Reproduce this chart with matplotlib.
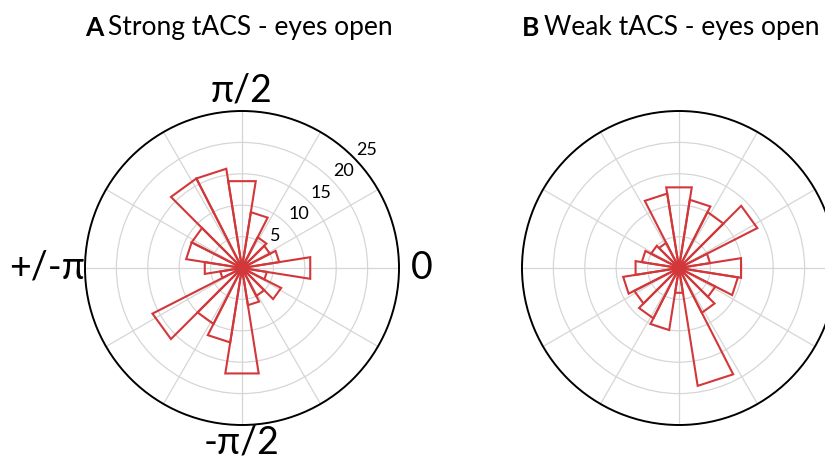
import numpy as np
import matplotlib
matplotlib.use("Agg")
import matplotlib.pyplot as plt

plt.rcParams['font.family'] = ['Lato', 'DejaVu Sans']

# ---- data ----
bin_centers_deg = [0, 18, 36, 54, 72, 90, 108, 126, 144, 162,
                   180, 198, 216, 234, 252, 270, 288, 306, 324, 342]
bin_width_deg = 18
counts_strong = [11, 6, 5, 5.5, 9, 14, 16, 16, 9, 9,
                 6, 3.5, 16, 10, 12, 17, 6, 5, 7, 4]
counts_weak = [10, 5, 14, 10, 11, 13, 12, 4.5, 5, 6,
               7, 9, 8, 9, 10, 4, 19, 8, 6.5, 9.5]
titles_bold = ['A', 'B']
titles_rest = ['Strong tACS - eyes open', 'Weak tACS - eyes open']
r_ticks = [5, 10, 15, 20, 25]
theta_labels = ['0', 'π/2', '+/-π', '-π/2']
theta_label_angles = [0, 90, 180, 270]

RED = '#d2373a'
GRID = '#d6d6d6'
W, H = 825, 461

fig = plt.figure(figsize=(W / 100, H / 100), dpi=100)

def make_ax(cx, cy, rad):
    return fig.add_axes([(cx - rad) / W, (H - cy - rad) / H, 2 * rad / W, 2 * rad / H],
                        projection='polar')

def rose(ax, counts):
    half = np.deg2rad(bin_width_deg / 2)
    for c, n in zip(bin_centers_deg, counts):
        t = np.deg2rad(c)
        ax.plot([0, t - half, t + half, 0], [0, n, n, 0], color=RED, lw=1.5,
                solid_joinstyle='miter', zorder=3)
    ax.plot([0], [0], 'o', color=RED, ms=5, zorder=4)

def style(ax):
    ax.set_ylim(0, 25)
    ax.set_yticks(r_ticks[:-1])
    ax.set_yticklabels([])
    ax.set_xticks(np.deg2rad(np.arange(0, 360, 30)))
    ax.set_xticklabels([])
    ax.grid(True, color=GRID, lw=0.9)
    ax.spines['polar'].set_color('black')
    ax.spines['polar'].set_linewidth(1.4)
    ax.tick_params(length=0)

axA = make_ax(242, 268, 157)
axB = make_ax(679, 268, 157)
for ax, cnt in [(axA, counts_strong), (axB, counts_weak)]:
    style(ax)
    rose(ax, cnt)

# radial labels (A only)
for v in r_ticks:
    axA.text(np.deg2rad(43.5), v + 2.4, str(v), fontsize=13, ha='center', va='center',
             clip_on=False)

# theta labels (A only)
label_r = {'0': 28.6, 'π/2': 28.2, '+/-π': 31.0, '-π/2': 27.8}
for lab, ang in zip(theta_labels, theta_label_angles):
    axA.text(np.deg2rad(ang), label_r[lab], lab, fontsize=27, ha='center', va='center',
             clip_on=False)

# titles
for xl, b, rest in zip([85, 522], titles_bold, titles_rest):
    tb = fig.text(xl / W, (H - 36) / H, b, fontsize=19, weight='bold', va='baseline')
    fig.add_artist(plt.Annotation(rest, xy=(1, 0), xycoords=tb, xytext=(3, 0),
                                  textcoords='offset points', fontsize=19,
                                  va='bottom', ha='left', annotation_clip=False))

fig.savefig('out.png', dpi=100)
